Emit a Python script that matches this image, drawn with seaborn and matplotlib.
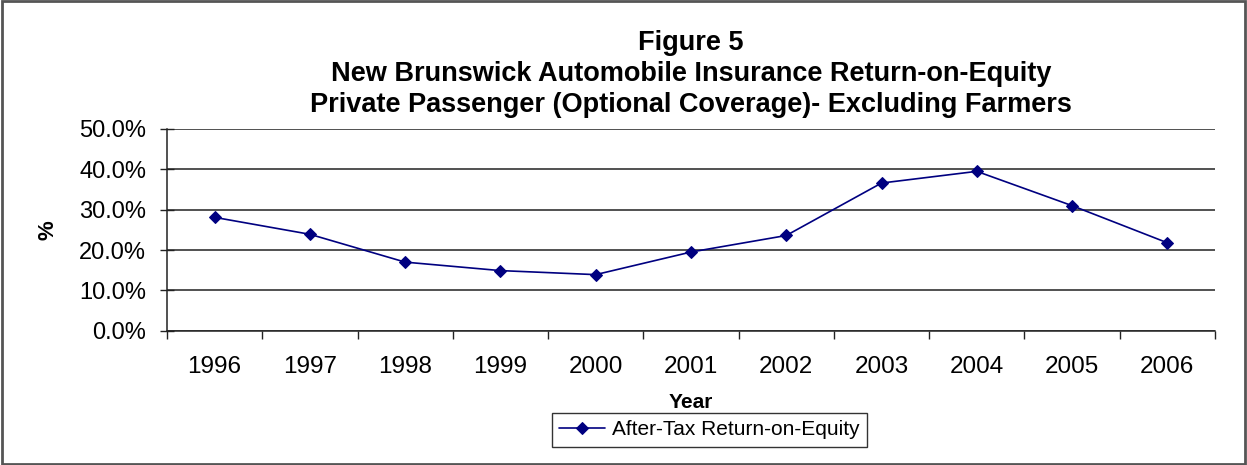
"""
Figure 5: New Brunswick Automobile Insurance Return-on-Equity,
Private Passenger (Optional Coverage) - Excluding Farmers.
"""

import matplotlib
matplotlib.use("Agg")
import matplotlib.pyplot as plt
import matplotlib.ticker as mticker
from matplotlib.patches import Rectangle
import seaborn as sns

sns.set_theme(style="white")
plt.rcParams["font.family"] = ["Liberation Sans", "DejaVu Sans"]
plt.rcParams["text.color"] = "black"
plt.rcParams["axes.labelcolor"] = "black"
plt.rcParams["xtick.color"] = "black"
plt.rcParams["ytick.color"] = "black"

YEARS = ["1996", "1997", "1998", "1999", "2000", "2001",
         "2002", "2003", "2004", "2005", "2006"]
ROE_PCT = [28.1, 23.9, 17.0, 14.9, 13.9, 19.5, 23.6, 36.6, 39.5, 31.0, 21.8]
SERIES_LABEL = "After-Tax Return-on-Equity"
Y_TICKS = [0, 10, 20, 30, 40, 50]

NAVY = "#000080"

fig = plt.figure(figsize=(12.47, 4.65), dpi=100)
ax = fig.add_axes([0.1339, 0.2888, 0.8404, 0.4338])

sns.lineplot(x=YEARS, y=ROE_PCT, ax=ax, color=NAVY, linewidth=1.2,
             marker="D", markersize=6, markeredgecolor=NAVY,
             label=SERIES_LABEL)

ax.set_xlim(-0.5, len(YEARS) - 0.5)
ax.set_ylim(0, 50)
ax.set_yticks(Y_TICKS)
ax.yaxis.set_major_formatter(mticker.PercentFormatter(xmax=100, decimals=1))
ax.yaxis.grid(True, color="#222222", linewidth=1.1)
ax.set_axisbelow(True)

# Striche zwischen den Kategorien, Beschriftung in der Mitte
ax.xaxis.set_minor_locator(mticker.FixedLocator([i - 0.5 for i in range(len(YEARS) + 1)]))
ax.tick_params(axis="x", which="major", length=0, pad=18, labelsize=17.5)
ax.tick_params(axis="x", which="minor", direction="out", length=5.5,
               width=1, color="#222222", bottom=True)
ax.tick_params(axis="y", which="major", direction="inout", length=10,
               width=1, color="#222222", left=True, pad=10, labelsize=17)

for side in ["top", "right"]:
    ax.spines[side].set_visible(False)
for side in ["left", "bottom"]:
    ax.spines[side].set_color("#222222")
    ax.spines[side].set_linewidth(1.1)

ax.set_xlabel("Year", fontsize=15, fontweight="bold", labelpad=11)
ax.set_ylabel("%", fontsize=16, fontweight="bold", labelpad=15)
ax.set_title("Figure 5\nNew Brunswick Automobile Insurance Return-on-Equity\n"
             "Private Passenger (Optional Coverage)- Excluding Farmers",
             fontsize=19.5, fontweight="bold", linespacing=1.27, pad=12)

leg = ax.legend(loc="center", bbox_to_anchor=(0.569, 0.0753),
                bbox_transform=fig.transFigure, fontsize=15, frameon=True,
                fancybox=False, edgecolor="black", handlelength=2.2,
                borderpad=0.35, handletextpad=0.35, borderaxespad=0)
leg.get_frame().set_linewidth(1.0)

fig.patches.append(Rectangle((0.002, 0.003), 0.996, 0.994, transform=fig.transFigure,
                             fill=False, edgecolor="#555555", linewidth=2))

fig.savefig("out.png", dpi=100)
plt.close(fig)
